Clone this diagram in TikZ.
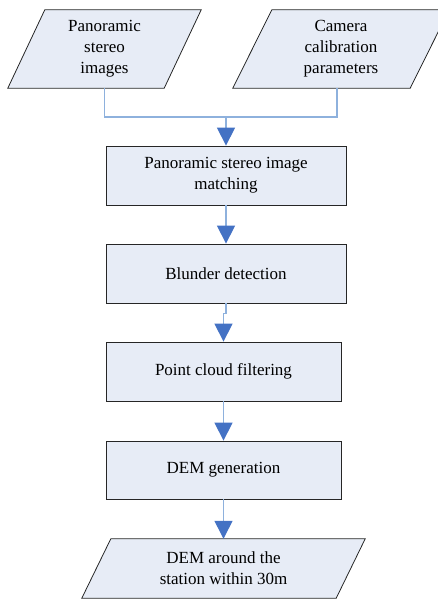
\documentclass[tikz,border=0pt]{standalone}
\usepackage{fontspec}
\setmainfont{Liberation Serif}
\usetikzlibrary{arrows.meta,backgrounds}
\definecolor{boxfill}{HTML}{E7ECF6}
\definecolor{linkblue}{HTML}{8EB1DD}
\definecolor{tipblue}{HTML}{4472C4}
\tikzset{
  x=1pt, y=-1pt,
  procbox/.style={draw=black!85, line width=0.8pt, fill=boxfill, minimum height=59pt,
    align=center, inner sep=0pt, font=\fontsize{17}{21}\selectfont},
  iotext/.style={minimum height=#1, align=center, inner sep=0pt, font=\fontsize{17}{21}\selectfont},
  ioshape/.style={draw=black!85, line width=0.8pt, fill=boxfill},
  link/.style={draw=linkblue, line width=1.3pt},
  flow/.style={link, -{Triangle[width=18pt,length=18pt,color=tipblue]}}
}
\begin{document}
\begin{tikzpicture}
\clip (0,0) rectangle (438,599);
% input parallelograms
\node[iotext=78pt, minimum width=156pt] (in1) at (104.5,49) {Panoramic\\stereo\\images};
\node[iotext=78pt, minimum width=177pt] (in2) at (341,49) {Camera\\calibration\\parameters};
\node[iotext=59pt, minimum width=254pt] (out) at (223.5,568.5) {DEM around the\\station within 30m};
\begin{scope}[on background layer]
  \draw[ioshape] ([xshift=18.5pt]in1.north west) -- ([xshift=18.5pt]in1.north east)
     -- ([xshift=-18.5pt]in1.south east) -- ([xshift=-18.5pt]in1.south west) -- cycle;
  \draw[ioshape] ([xshift=19.5pt]in2.north west) -- ([xshift=19.5pt]in2.north east)
     -- ([xshift=-19.5pt]in2.south east) -- ([xshift=-19.5pt]in2.south west) -- cycle;
  \draw[ioshape] ([xshift=14.5pt]out.north west) -- ([xshift=14.5pt]out.north east)
     -- ([xshift=-14.5pt]out.south east) -- ([xshift=-14.5pt]out.south west) -- cycle;
\end{scope}
% process boxes
\node[procbox, minimum width=240pt] (b1) at (226,175.5) {Panoramic stereo image\\matching};
\node[procbox, minimum width=240pt] (b2) at (226,273.5) {Blunder detection};
\node[procbox, minimum width=235pt] (b3) at (223.5,371.5) {Point cloud filtering};
\node[procbox, minimum width=235pt, minimum height=58pt] (b4) at (223.5,470) {DEM generation};
% connectors
\coordinate (j) at (226,117);
\draw[link] (in1.south) |- (j) -| ([xshift=-4pt]in2.south);
\draw[flow] (j) -- (b1.north);
\draw[flow] (b1.south) -- (b2.north);
\draw[flow] (b2.south) -- ++(0,10) -| (b3.north);
\draw[flow] (b3.south) -- (b4.north);
\draw[flow] (b4.south) -- (b4.south |- out.north);
\end{tikzpicture}
\end{document}
